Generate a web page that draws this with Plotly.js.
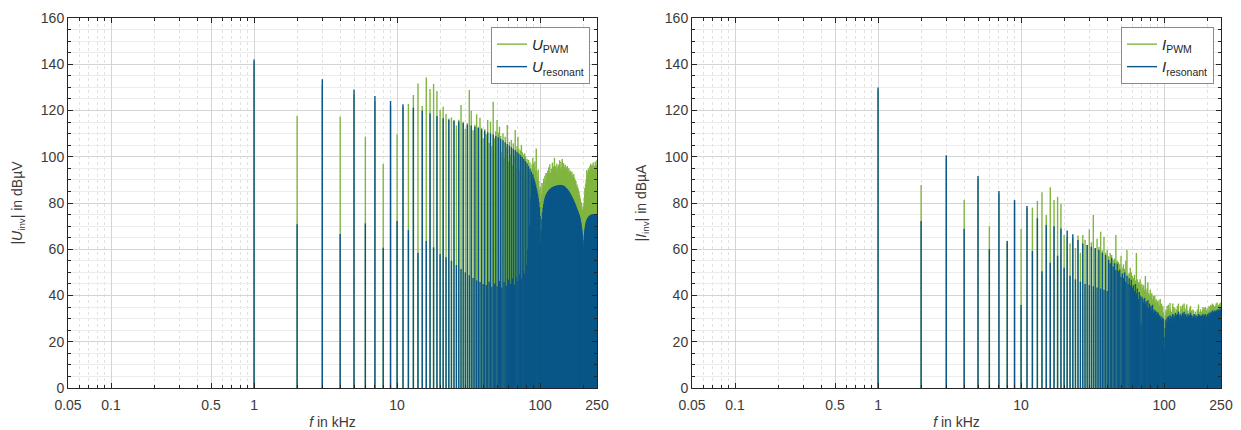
<!DOCTYPE html>
<html><head><meta charset="utf-8">
<script src="https://cdn.plot.ly/plotly-3.0.1.min.js"></script>
<style>html,body{margin:0;padding:0;background:#fff;} #chart{width:1241px;height:430px;}</style>
</head><body><div id="chart"></div>
<script>
// Harmonic spectrum, fundamental 1 kHz, harmonics 1..250
const fundamentalKHz = 1;
const harmonicOrder = Array.from({length: 250}, (_, i) => i + 1);

const xTickVals = [0.05, 0.1, 0.5, 1, 10, 100, 250];
const xTickText = ['0.05', '0.1', '0.5', '1', '10', '100', '250'];
const xMinorVals = [0.06,0.07,0.08,0.09,0.2,0.3,0.4,0.6,0.7,0.8,0.9,2,3,4,5,6,7,8,9,20,30,40,50,60,70,80,90,200];

// Left panel: |U_inv| in dBµV
const uPWM = [
141.0,117.6,131.0,117.3,127.0,108.7,124.0,96.9,122.0,109.7,
121.5,122.8,126.7,131.7,121.9,134.3,129.3,131.5,128.4,120.2,
121.6,118.5,116.5,117.0,115.9,113.5,116.0,122.4,115.2,112.0,
114.5,128.9,119.9,111.5,113.8,118.4,113.0,116.9,112.5,108.0,
112.0,109.7,115.9,106.0,115.2,104.5,123.8,108.0,111.0,115.9,
110.5,113.0,109.0,102.0,110.2,99.5,108.7,104.0,113.7,98.0,
106.5,101.0,107.3,96.5,105.8,100.5,111.6,95.0,104.5,108.7,
103.5,94.0,102.8,105.1,101.9,92.5,101.0,101.5,100.2,90.0,
99.0,96.5,98.6,93.0,97.5,95.0,94.3,96.8,99.5,97.0,
95.5,98.0,94.0,103.6,93.5,91.0,94.5,89.5,86.0,87.0,
80.5,84.0,88.6,86.5,88.6,90.5,87.5,91.8,89.5,93.0,
92.9,90.5,94.0,91.0,95.5,92.5,96.8,93.0,91.5,94.8,
92.0,97.5,93.5,95.8,94.0,99.5,93.0,96.0,94.5,92.8,
97.0,94.0,95.5,92.9,96.5,93.5,98.5,95.0,94.0,97.8,
95.5,93.5,99.0,94.5,96.0,97.2,94.0,95.5,93.0,96.5,
94.0,95.5,94.3,92.5,96.0,93.0,94.5,91.8,95.0,92.0,
93.5,91.4,94.0,90.5,92.8,91.0,93.5,90.0,92.0,89.5,
90.7,92.5,89.0,91.0,88.5,90.0,87.5,89.5,86.5,87.0,
88.0,85.5,87.0,84.5,86.0,83.5,85.0,82.5,83.5,81.5,
82.0,80.0,80.5,79.0,79.8,78.5,77.5,76.5,76.0,75.0,
77.0,78.5,80.0,82.5,84.0,86.5,85.5,88.0,87.0,90.0,
89.0,94.3,90.5,92.0,88.5,93.5,91.0,95.0,89.5,92.5,
94.0,90.5,96.0,91.5,93.5,97.0,92.0,94.5,95.8,91.0,
96.5,93.0,90.5,95.0,97.5,92.0,94.0,89.5,96.0,93.5,
91.0,95.5,98.0,92.5,94.0,90.0,96.5,93.0,95.0,98.6
];
const uResonant = [
142.1,70.8,133.5,66.6,129.1,71.2,126.3,60.7,124.1,72.2,
122.7,68.3,121.2,58.5,119.9,63.6,118.8,60.8,117.6,58.0,
116.6,56.5,116.0,55.0,115.6,53.2,115.2,51.5,114.6,50.0,
113.9,48.8,113.5,47.6,113.0,46.5,112.4,45.8,111.9,45.0,
111.2,44.5,110.6,46.0,110.1,43.8,109.6,45.2,109.0,44.0,
108.4,46.3,107.8,43.5,107.1,45.8,106.3,44.2,105.5,46.9,
104.8,45.1,104.1,47.5,103.5,44.6,102.9,48.0,102.2,46.2,
101.4,49.1,100.6,47.3,99.9,51.0,99.0,49.5,98.1,53.2,
97.2,60.0,96.0,70.5,94.8,82.0,93.5,88.5,92.4,91.0,
90.2,89.1,87.9,86.6,85.4,84.0,82.3,80.4,78.2,74.5,
62.5,68.0,73.0,76.0,78.0,79.6,80.9,81.9,82.8,83.5,
84.0,84.4,84.8,85.1,85.4,85.7,85.9,86.1,86.3,86.5,
86.7,86.8,86.9,87.0,87.1,87.2,87.3,87.3,87.4,87.5,
87.5,87.6,87.6,87.7,87.7,87.7,87.8,87.8,87.8,87.8,
87.7,87.7,87.6,87.6,87.5,87.4,87.3,87.2,87.0,86.9,
86.5,86.4,86.3,86.1,85.9,85.7,85.5,85.2,85.0,84.7,
84.4,84.1,83.8,83.5,83.2,82.9,82.6,82.2,81.9,81.6,
81.2,80.9,80.5,80.1,79.8,79.4,79.0,78.6,78.2,77.8,
77.4,77.0,76.6,76.2,75.8,75.4,75.0,74.6,74.1,73.5,
72.8,72.0,71.2,70.3,69.3,68.2,67.0,65.6,63.5,60.0,
57.5,61.0,64.0,66.0,67.5,68.7,69.6,70.4,71.0,71.6,
72.0,72.4,72.7,73.0,73.3,73.5,73.7,73.9,74.1,74.2,
74.3,74.4,74.5,74.6,74.7,74.8,74.8,74.9,74.9,75.0,
75.0,75.0,75.0,75.0,75.0,74.9,74.9,74.9,74.8,74.8,
74.8,74.7,74.7,74.7,74.6,74.6,74.6,74.5,74.5,74.5
];

// Right panel: |I_inv| in dBµA
const iPWM = [
129.0,87.8,99.5,81.3,90.5,70.0,84.0,63.0,80.5,68.8,
78.0,78.0,80.9,84.6,74.8,86.8,81.3,82.7,79.6,66.2,
65.4,62.6,64.9,60.5,66.0,58.5,66.2,64.1,61.8,68.6,
63.0,74.8,60.0,64.5,61.0,67.6,59.5,65.4,58.5,59.7,
57.0,58.4,57.5,55.5,56.0,66.2,55.0,54.5,53.5,57.2,
52.0,53.5,51.5,55.0,59.7,49.0,49.7,52.0,50.0,48.5,
47.5,49.0,46.5,58.4,47.0,45.5,46.0,47.0,44.5,45.0,
43.5,44.5,42.5,48.4,41.5,43.0,45.7,41.0,40.0,42.5,
39.5,41.0,38.5,39.9,38.0,40.0,37.5,38.5,36.5,37.5,
36.0,38.0,35.5,38.5,35.0,36.5,34.5,35.5,32.7,29.0,
24.0,31.5,34.0,33.0,35.5,33.5,36.0,34.5,33.0,36.8,
34.0,30.0,33.0,29.5,36.5,29.0,35.0,28.0,34.5,31.5,
29.0,34.0,28.5,35.5,29.5,36.5,30.0,32.5,30.5,33.5,
35.5,28.0,34.5,29.5,36.0,28.5,30.5,36.5,29.0,34.5,
33.0,31.0,34.0,36.1,27.5,33.5,31.0,32.5,30.0,33.5,
34.5,29.0,35.5,28.0,33.5,30.5,31.0,29.0,34.0,28.5,
33.5,31.0,32.0,30.0,30.5,33.0,30.5,32.0,29.5,31.5,
34.0,28.5,33.5,36.1,27.5,33.0,30.5,32.0,29.0,34.0,
32.5,30.5,33.0,31.0,30.0,33.5,35.0,28.5,34.0,29.0,
34.5,28.0,33.5,35.0,29.0,31.5,30.0,33.5,28.5,34.5,
33.0,31.0,32.5,30.0,33.5,35.5,30.0,32.5,35.0,32.4,
30.5,36.0,33.0,30.5,35.5,33.5,31.0,36.5,30.0,35.0,
36.0,30.5,35.5,33.5,32.5,35.0,34.0,32.0,35.5,30.5,
36.5,31.0,33.7,32.0,37.0,31.5,34.5,32.5,35.0,36.0,
33.0,35.5,32.0,33.0,36.5,33.5,35.0,32.0,37.0,32.5
];
const iResonant = [
130.0,72.2,100.7,68.8,91.7,60.1,85.2,63.6,81.3,35.9,
78.7,59.2,73.4,50.5,70.5,54.2,70.0,57.2,69.0,52.0,
68.1,48.5,66.5,47.0,64.0,46.0,62.5,45.0,61.8,44.5,
61.1,44.0,60.5,43.5,59.7,43.0,58.5,42.5,57.5,42.0,
55.5,54.0,56.3,52.5,54.0,51.0,53.8,50.5,51.2,48.0,
49.5,47.5,50.0,46.0,48.5,45.0,47.5,44.5,46.8,43.5,
44.5,42.0,45.0,41.0,43.0,38.5,41.5,40.0,28.0,39.5,
38.5,37.0,39.0,36.5,37.5,35.0,38.0,34.5,36.5,35.0,
35.5,33.5,36.0,32.5,34.0,33.0,33.5,31.5,33.0,32.0,
32.5,30.5,31.5,30.0,31.0,29.5,30.5,28.5,30.0,22.0,
16.5,26.0,29.5,28.0,30.5,29.0,31.0,30.0,29.5,31.5,
30.0,31.0,29.0,30.5,32.0,30.0,31.5,28.5,30.5,32.5,
30.0,31.5,29.5,32.0,30.5,33.0,31.0,29.5,31.5,30.0,
32.0,29.0,31.0,30.5,32.5,29.5,31.5,33.0,30.0,31.5,
29.5,32.0,30.0,31.0,28.5,30.5,32.0,29.5,31.0,30.0,
31.5,30.0,32.5,29.0,30.5,31.5,28.0,30.0,31.0,29.5,
30.5,32.0,29.0,31.0,27.5,30.0,31.5,29.0,30.5,28.5,
31.0,29.5,30.5,32.0,28.5,30.0,31.5,29.0,30.0,31.0,
29.5,31.5,30.0,28.0,31.0,30.5,32.0,29.5,31.0,30.0,
31.5,29.0,30.5,32.0,30.0,28.5,31.0,30.5,29.5,31.5,
30.0,32.0,29.5,31.0,30.5,32.5,31.0,29.5,32.0,30.5,
31.5,33.0,30.0,31.5,32.5,30.5,32.0,33.5,31.0,32.0,
33.0,31.5,32.5,30.5,33.5,32.0,31.0,33.0,32.5,31.5,
33.5,32.0,31.0,33.0,34.0,32.5,31.5,33.5,32.0,33.0,
34.0,32.5,33.0,31.5,33.5,34.5,32.0,33.0,34.0,33.5
];

const GREEN = '#80B540';
const BLUE = '#0A5689';
const FONT = 'Liberation Sans, Arial, Helvetica, sans-serif';
const AXC = '#262626';
const TXT = '#3a3a3a';

function stems(vals) {
  const x = [], y = [];
  vals.forEach((v, i) => {
    const f = harmonicOrder[i] * fundamentalKHz;
    x.push(f, f, null);
    y.push(0, v, null);
  });
  return {x, y};
}

function trace(vals, name, color, xa, ya, lg) {
  const s = stems(vals);
  return {type: 'scatter', mode: 'lines', x: s.x, y: s.y, name: name,
    line: {color: color, width: 1.4}, xaxis: xa, yaxis: ya, legend: lg,
    connectgaps: false, hoverinfo: 'skip'};
}

const data = [
  trace(uPWM, '<i>U</i><sub>PWM</sub>', GREEN, 'x', 'y', 'legend'),
  trace(uResonant, '<i>U</i><sub>resonant</sub>', BLUE, 'x', 'y', 'legend'),
  trace(iPWM, '<i>I</i><sub>PWM</sub>', GREEN, 'x2', 'y2', 'legend2'),
  trace(iResonant, '<i>I</i><sub>resonant</sub>', BLUE, 'x2', 'y2', 'legend2')
];

function xAxis(domain, anchor) {
  return {
    type: 'log', domain: domain, anchor: anchor,
    range: [Math.log10(0.05), Math.log10(250)],
    tickmode: 'array', tickvals: xTickVals, ticktext: xTickText,
    ticks: 'inside', ticklen: 5, tickcolor: AXC, tickwidth: 1,
    ticklabelstandoff: 4,
    showline: true, linecolor: AXC, linewidth: 1, mirror: 'ticks',
    showgrid: true, gridcolor: '#d4d4d4', gridwidth: 1,
    zeroline: false,
    minor: {tickmode: 'array', tickvals: xMinorVals, ticks: 'inside', ticklen: 3,
            tickcolor: AXC, showgrid: true, gridcolor: '#e2e2e2', griddash: 'dot'},
    tickfont: {family: FONT, size: 14, color: TXT},
    title: {text: '<i>f</i> in kHz', font: {family: FONT, size: 14, color: TXT}, standoff: 6}
  };
}
function yAxis(domain, anchor, title) {
  return {
    domain: domain, anchor: anchor, range: [0, 160],
    tickmode: 'linear', tick0: 0, dtick: 20,
    ticks: 'inside', ticklen: 5, tickcolor: AXC, tickwidth: 1,
    showline: true, linecolor: AXC, linewidth: 1, mirror: 'ticks',
    showgrid: true, gridcolor: '#d4d4d4', gridwidth: 1, zeroline: false,
    minor: {dtick: 5, ticks: 'inside', ticklen: 3, tickcolor: AXC,
            showgrid: true, gridcolor: '#ececec'},
    tickfont: {family: FONT, size: 14, color: TXT},
    title: {text: title, font: {family: FONT, size: 14, color: TXT}, standoff: 14}
  };
}

const legendStyle = {
  bgcolor: '#ffffff', bordercolor: '#8a8a8a', borderwidth: 1,
  font: {family: FONT, size: 15, color: '#262626'},
  xanchor: 'right', yanchor: 'top', tracegroupgap: 0
};

const layout = {
  width: 1241, height: 430,
  margin: {l: 68, r: 20, t: 18, b: 42},
  paper_bgcolor: '#ffffff', plot_bgcolor: '#ffffff',
  showlegend: true,
  font: {family: FONT},
  xaxis: xAxis([0, 529/1153], 'y'),
  yaxis: yAxis([0, 1], 'x', '|<i>U</i><sub>inv</sub>| in dBµV'),
  xaxis2: xAxis([624/1153, 1], 'y2'),
  yaxis2: yAxis([0, 1], 'x2', '|<i>I</i><sub>inv</sub>| in dBµA'),
  legend: Object.assign({x: 522/1153, y: 0.976}, legendStyle),
  legend2: Object.assign({x: 1146/1153, y: 0.976}, legendStyle)
};

Plotly.newPlot('chart', data, layout, {displayModeBar: false, staticPlot: true});
</script>
</body></html>
